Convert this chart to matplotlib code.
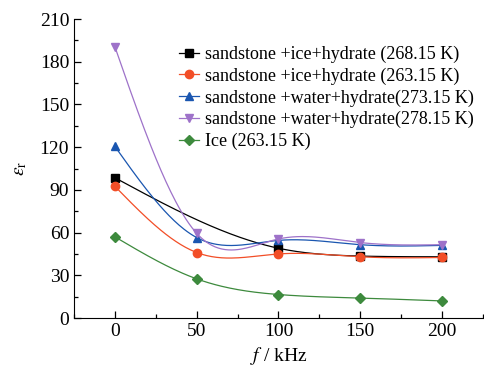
import matplotlib
matplotlib.use("Agg")
import matplotlib.pyplot as plt
from matplotlib.ticker import MultipleLocator
import numpy as np

plt.rcParams['font.family'] = ['Liberation Serif', 'DejaVu Serif']
plt.rcParams['mathtext.fontset'] = 'stix'

freq = [0, 50, 100, 150, 200]
freq_black = [0, 100, 150, 200]
ice_hyd_268 = [98.5, 49, 43.5, 43]
ice_hyd_263 = [92.5, 46, 45, 43, 42.5]
water_hyd_273 = [120.5, 56.5, 54.5, 51.5, 51]
water_hyd_278 = [190.5, 59.5, 55.5, 53, 51.5]
ice_263 = [57, 27.5, 16.5, 14, 12]

labels = ["sandstone +ice+hydrate (268.15 K)",
          "sandstone +ice+hydrate (263.15 K)",
          "sandstone +water+hydrate(273.15 K)",
          "sandstone +water+hydrate(278.15 K)",
          "Ice (263.15 K)"]
colors = ["#000000", "#F24E27", "#1A56B0", "#9E72C9", "#3D8A3D"]
markers = ["s", "o", "^", "v", "D"]


def spline(x, y, n=200):
    # natural cubic spline, like Origin's smooth connect
    x = np.asarray(x, float)
    y = np.asarray(y, float)
    k = len(x)
    h = np.diff(x)
    A = np.zeros((k, k))
    b = np.zeros(k)
    A[0, 0] = A[-1, -1] = 1
    for i in range(1, k - 1):
        A[i, i - 1] = h[i - 1]
        A[i, i] = 2 * (h[i - 1] + h[i])
        A[i, i + 1] = h[i]
        b[i] = 6 * ((y[i + 1] - y[i]) / h[i] - (y[i] - y[i - 1]) / h[i - 1])
    M = np.linalg.solve(A, b)
    xs = np.linspace(x[0], x[-1], n)
    idx = np.clip(np.searchsorted(x, xs) - 1, 0, k - 2)
    x0, x1 = x[idx], x[idx + 1]
    hh = x1 - x0
    t0, t1 = x1 - xs, xs - x0
    ys = (M[idx] * t0 ** 3 + M[idx + 1] * t1 ** 3) / (6 * hh) \
        + (y[idx] / hh - M[idx] * hh / 6) * t0 \
        + (y[idx + 1] / hh - M[idx + 1] * hh / 6) * t1
    return xs, ys


fig = plt.figure(figsize=(4.85, 3.69), dpi=100)
ax = fig.add_axes([0.1526, 0.1382, 0.843, 0.8103])

series = [(freq_black, ice_hyd_268), (freq, ice_hyd_263), (freq, water_hyd_273),
          (freq, water_hyd_278), (freq, ice_263)]
for (xv, yv), lab, c, m in zip(series, labels, colors, markers):
    xs, ys = spline(xv, yv)
    ax.plot(xs, ys, color=c, lw=0.9)
    ax.plot(xv, yv, ls="none", marker=m, color=c, ms=6 if m != "D" else 5)
    ax.plot([], [], color=c, lw=0.9, marker=m, ms=6 if m != "D" else 5, label=lab)

ax.set_xlim(-25, 225)
ax.set_ylim(0, 210)
ax.xaxis.set_major_locator(MultipleLocator(50))
ax.xaxis.set_minor_locator(MultipleLocator(25))
ax.yaxis.set_major_locator(MultipleLocator(30))
ax.yaxis.set_minor_locator(MultipleLocator(15))
ax.tick_params(which="both", direction="in", labelsize=14, width=0.9)
ax.tick_params(which="major", length=5)
ax.tick_params(which="minor", length=3)
ax.spines["top"].set_visible(False)
ax.spines["right"].set_visible(False)

ax.set_xlabel(r"$f$ / kHz", fontsize=14, labelpad=4)
ax.set_ylabel(r"$\varepsilon_{\mathrm{r}}$", fontsize=14, labelpad=8)

ax.legend(loc="upper left", bbox_to_anchor=(0.24, 0.935), frameon=False, fontsize=13,
          handlelength=1.1, handletextpad=0.3, labelspacing=0.25, borderaxespad=0)

fig.savefig("out.png", dpi=100)
